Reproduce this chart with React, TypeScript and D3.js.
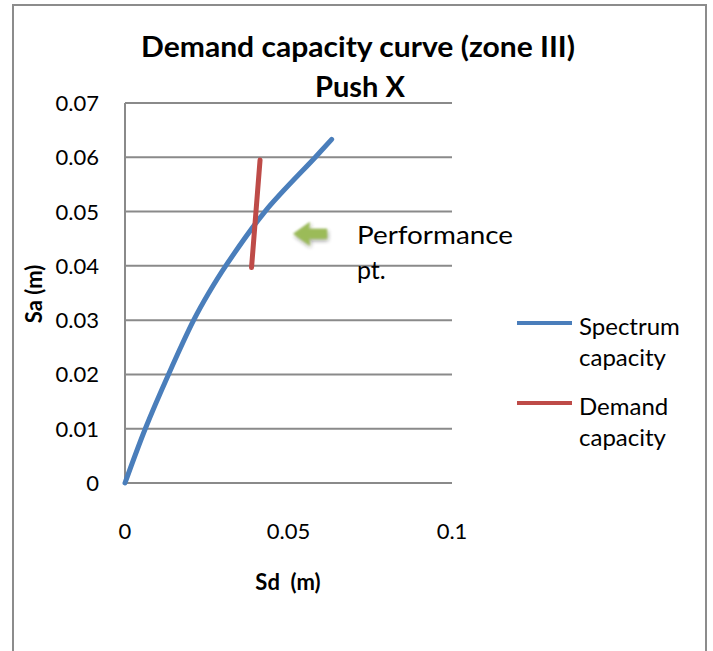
import React from "react";
import * as d3 from "d3";

const spectrumSd = [0, 0.0062, 0.0133, 0.021, 0.0256, 0.0308, 0.0428, 0.0582, 0.0632];
const spectrumSa = [0, 0.01, 0.02, 0.03, 0.035, 0.04, 0.05, 0.06, 0.0633];
const demandSd = [0.0387, 0.0413];
const demandSa = [0.0397, 0.0595];
const yTicks = [0, 0.01, 0.02, 0.03, 0.04, 0.05, 0.06, 0.07];
const xTicks = [0, 0.05, 0.1];
const xTickLabels = ["0", "0.05", "0.1"];
const yTickLabels = ["0", "0.01", "0.02", "0.03", "0.04", "0.05", "0.06", "0.07"];
const titleLines = ["Demand capacity curve (zone III)", "Push X"];
const legendNames = [["Spectrum", "capacity"], ["Demand", "capacity"]];
const annotation = ["Performance", "pt."];
const annotationPoint = [0.0566, 0.0459];

const W = 713;
const H = 651;
const FONT = "Lato, 'Open Sans', sans-serif";
const BLUE = "#4A7EBB";
const RED = "#BE4B48";
const GRID = "#8A8A8A";

export default function App() {
  const x = d3.scaleLinear().domain([0, 0.1]).range([125, 452]);
  const y = d3.scaleLinear().domain([0, 0.07]).range([483, 103]);
  const line = d3
    .line<[number, number]>()
    .x((d) => x(d[0]))
    .y((d) => y(d[1]))
    .curve(d3.curveCatmullRom.alpha(0.5));
  const spec: [number, number][] = spectrumSd.map((v, i) => [v, spectrumSa[i]]);
  const dem: [number, number][] = demandSd.map((v, i) => [v, demandSa[i]]);
  const ax = x(annotationPoint[0]);
  const ay = y(annotationPoint[1]);
  return (
    <svg
      width={W}
      height={H}
      style={{ position: "absolute", left: 0, top: 0, background: "#fff" }}
      fontFamily={FONT}
    >
      <defs>
        <filter id="soft" x="-50%" y="-50%" width="200%" height="200%">
          <feGaussianBlur in="SourceAlpha" stdDeviation="2" result="b" />
          <feOffset in="b" dx="1" dy="2" result="o" />
          <feComponentTransfer in="o" result="s">
            <feFuncA type="linear" slope="0.45" />
          </feComponentTransfer>
          <feGaussianBlur in="SourceGraphic" stdDeviation="0.8" result="g" />
          <feMerge>
            <feMergeNode in="s" />
            <feMergeNode in="g" />
          </feMerge>
        </filter>
      </defs>
      <rect x={13} y={5} width={693} height={H + 10} fill="#fff" stroke="#8C8C8C" strokeWidth={2} />
      <text x={358} y={57} textAnchor="middle" fontWeight="bold" fontSize={28} fill="#000" textLength={434} lengthAdjust="spacingAndGlyphs">
        {titleLines[0]}
      </text>
      <text x={360} y={97} textAnchor="middle" fontWeight="bold" fontSize={28} fill="#000" textLength={90} lengthAdjust="spacingAndGlyphs">
        {titleLines[1]}
      </text>
      {yTicks.map((t, i) => (
        <g key={i}>
          <line x1={x(0)} x2={x(0.1)} y1={y(t)} y2={y(t)} stroke={GRID} strokeWidth={2} />
          <text x={99} y={y(t) + 8} textAnchor="end" fontSize={22} fill="#000">
            {yTickLabels[i]}
          </text>
        </g>
      ))}
      <line x1={x(0)} x2={x(0)} y1={y(0.07)} y2={y(0)} stroke={GRID} strokeWidth={2} />
      {xTicks.map((t, i) => (
        <text key={i} x={x(t)} y={539} textAnchor="middle" fontSize={22} fill="#000">
          {xTickLabels[i]}
        </text>
      ))}
      <text x={288} y={590} textAnchor="middle" fontWeight="bold" fontSize={22} fill="#000" style={{ whiteSpace: "pre" }}>
        {"Sd  (m)"}
      </text>
      <text
        transform="translate(42,294) rotate(-90)"
        textAnchor="middle"
        fontWeight="bold"
        fontSize={22}
        fill="#000"
      >
        Sa (m)
      </text>
      <path d={line(spec) || ""} fill="none" stroke={BLUE} strokeWidth={5} strokeLinecap="round" />
      <path d={line(dem) || ""} fill="none" stroke={RED} strokeWidth={5} strokeLinecap="round" />
      <path
        d={`M${ax - 17},${ay} L${ax},${ay - 12} L${ax - 1},${ay - 5} L${ax + 17},${ay - 5} L${ax + 17},${ay + 5} L${ax - 1},${ay + 5} L${ax},${ay + 12} Z`}
        fill="#9BBB59"
        filter="url(#soft)"
      />
      <text x={357} y={244} fontSize={25} fill="#000" textLength={156} lengthAdjust="spacingAndGlyphs">
        {annotation[0]}
      </text>
      <text x={357} y={279} fontSize={25} fill="#000">
        {annotation[1]}
      </text>
      {legendNames.map((n, i) => (
        <g key={i} transform={`translate(0,${i * 80})`}>
          <line x1={517} x2={572} y1={323} y2={323} stroke={i === 0 ? BLUE : RED} strokeWidth={4} />
          <text x={579} y={335} fontSize={24} fill="#000">
            {n[0]}
          </text>
          <text x={579} y={366} fontSize={24} fill="#000">
            {n[1]}
          </text>
        </g>
      ))}
    </svg>
  );
}
